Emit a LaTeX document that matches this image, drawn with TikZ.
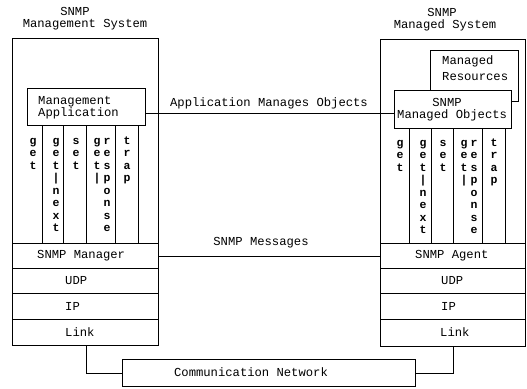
\documentclass[tikz,border=0pt]{standalone}
\usepackage{fontspec}
\setmainfont{Liberation Mono}
\newcommand\vcol[4]{%
  \foreach \ch [count=\i from #3] in {#4} {\node[vt] (#1\i) at (#2, {131.5+12.5*\i}) {\ch};}}
\begin{document}
\begin{tikzpicture}[x=1pt,y=-1pt,
  box/.style={draw, line width=0.8pt, fill=white, inner sep=0, rectangle, anchor=north west},
  lbl/.style={font=\fontsize{12.2}{12.5}\selectfont, inner sep=0},
  vt/.style={font=\fontsize{11.5}{12}\selectfont\bfseries, inner sep=0, anchor=base},
  col/.style={line width=0.8pt},
  conn/.style={line width=0.8pt}]
\useasboundingbox (0,0) rectangle (527,388);

% ---------- left system ----------
\node[box, minimum width=146, minimum height=205] (lsys) at (12,38) {};
\node[box, minimum width=146, minimum height=25] (lman) at (12,243) {};
\node[box, minimum width=146, minimum height=25] (ludp) at (12,268) {};
\node[box, minimum width=146, minimum height=26] (lip) at (12,293) {};
\node[box, minimum width=146, minimum height=26] (llink) at (12,319) {};
\node[box, minimum width=118, minimum height=37] (lapp) at (27,88) {};

\node[lbl] (tl1) at (75,11) {SNMP};
\node[lbl] (tl2) at (85,25) {Management System};
\node[lbl, anchor=west] (tapp1) at (38,102) {Management};
\node[lbl, anchor=west] (tapp2) at (38,113.5) {Application};
\node[lbl, anchor=west] (tmgr) at (37,255.5) {SNMP Manager};
\node[lbl, anchor=west] (tludp) at (65,280.5) {UDP};
\node[lbl, anchor=west] (tlip) at (65,306) {IP};
\node[lbl, anchor=west] (tllink) at (65,332) {Link};

\foreach \x in {42,63,86,115,138}
  \draw[col] (\x,0 |- lapp.south) -- (\x,0 |- lman.north);

\vcol{lga}{33}{1}{g,e,t}
\vcol{lgn}{56}{1}{g,e,t,|,n,e,x,t}
\vcol{lse}{76}{1}{s,e,t}
\vcol{lgra}{97}{1}{g,e,t,|}
\vcol{lgrb}{107}{1}{r,e,s,p,o,n,s,e}
\vcol{ltr}{127}{1}{t,r,a,p}

% ---------- right system ----------
\node[box, minimum width=145, minimum height=204] (rsys) at (380,39) {};
\node[box, minimum width=145, minimum height=25] (ragent) at (380,243) {};
\node[box, minimum width=145, minimum height=25] (rudp) at (380,268) {};
\node[box, minimum width=145, minimum height=26] (rip) at (380,293) {};
\node[box, minimum width=145, minimum height=27] (rlink) at (380,319) {};
\node[box, minimum width=88, minimum height=51] (rres) at (430,50) {};
\node[box, minimum width=117, minimum height=38] (robj) at (394,90) {};

\node[lbl] (tr1) at (442,12) {SNMP};
\node[lbl] (tr2) at (445,25) {Managed System};
\node[lbl, anchor=west] (tres1) at (442,61) {Managed};
\node[lbl, anchor=west] (tres2) at (442,77) {Resources};
\node[lbl] (tobj1) at (447,102) {SNMP};
\node[lbl, anchor=west] (tobj2) at (397,115.5) {Managed Objects};
\node[lbl, anchor=west] (tagt) at (415,255.5) {SNMP  Agent};
\node[lbl, anchor=west] (trudp) at (441,280.5) {UDP};
\node[lbl, anchor=west] (trip) at (441,306) {IP};
\node[lbl, anchor=west] (trlink) at (440,332.5) {Link};

\foreach \x in {409,431,453,482,505}
  \draw[col] (\x,0 |- robj.south) -- (\x,0 |- ragent.north);

\begin{scope}[xshift=367pt, yshift=-2pt]
\vcol{rga}{33}{1}{g,e,t}
\vcol{rgn}{56}{1}{g,e,t,|,n,e,x,t}
\vcol{rse}{76}{1}{s,e,t}
\vcol{rgra}{97}{1}{g,e,t,|}
\vcol{rgrb}{107}{1}{r,e,s,p,o,n,s,e}
\vcol{rtr}{127}{1}{t,r,a,p}
\end{scope}

% ---------- network ----------
\node[box, minimum width=293, minimum height=27] (net) at (122,359) {};
\node[lbl] (tnet) at (251,372.5) {Communication Network};

% ---------- connectors ----------
\coordinate (amo) at (0,113);
\draw[conn] (lapp.east |- amo) -- (robj.west |- amo);
\node[lbl] (tamo) at (269,103) {Application Manages Objects};
\draw[conn] (lman.east) -- (ragent.west);
\node[lbl] (tmsg) at (261,243) {SNMP Messages};
\draw[conn] (86,0 |- llink.south) |- (net.west);
\draw[conn] (453,0 |- rlink.south) |- (net.east);
\end{tikzpicture}
\end{document}
